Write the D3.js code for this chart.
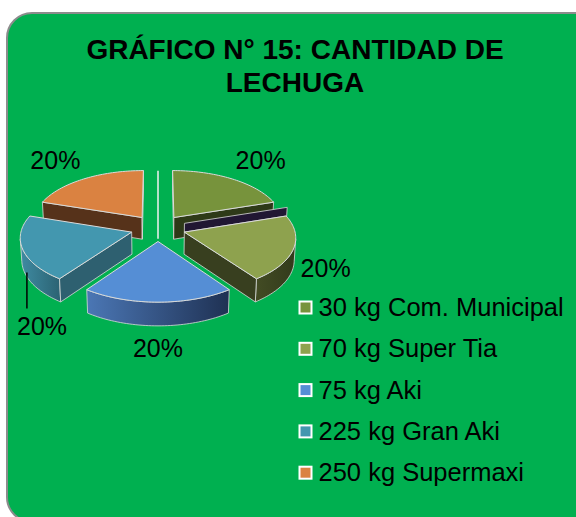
<!DOCTYPE html>
<html>
<head>
<meta charset="utf-8">
<script src="https://cdn.jsdelivr.net/npm/d3@7"></script>
<style>
  body { margin: 0; background: #fff; }
  svg { display: block; font-family: "Liberation Sans", Arial, sans-serif; }
</style>
</head>
<body>
<div id="chart"></div>
<script>
// Chart data
const categories = ["30 kg Com. Municipal", "70 kg Super Tia", "75 kg Aki", "225 kg Gran Aki", "250 kg Supermaxi"];
const values = [20, 20, 20, 20, 20];
const titleLines = ["GRÁFICO N° 15: CANTIDAD DE", "LECHUGA"];

const width = 576, height = 517;

// slice colours: top face, radial wall, outer wall gradient (light -> dark)
const topColor = d3.scaleOrdinal().domain(categories).range(["#77933C", "#8EA24E", "#558ED5", "#4397AF", "#DA8241"]);
const wallColor = d3.scaleOrdinal().domain(categories).range(["#2E3A18", "#383F1F", "#27406A", "#2E6070", "#56321A"]);
const outerLight = d3.scaleOrdinal().domain(categories).range(["#4A5C26", "#434C24", "#4B77B5", "#3F8BA2", "#7A4522"]);
const outerDark = d3.scaleOrdinal().domain(categories).range(["#2E3A18", "#323A1B", "#1F3153", "#2B6272", "#56321A"]);

const svg = d3.select("#chart").append("svg")
  .attr("width", width)
  .attr("height", height);

// green panel
svg.append("rect")
  .attr("x", 7).attr("y", 13)
  .attr("width", 640).attr("height", 509)
  .attr("rx", 25)
  .attr("fill", "#00B050")
  .attr("stroke", "#8c8c8c")
  .attr("stroke-width", 2);

// title
svg.append("text")
  .attr("text-anchor", "middle")
  .attr("font-weight", "bold")
  .attr("font-size", 28)
  .selectAll("tspan")
  .data(titleLines)
  .enter().append("tspan")
  .attr("x", 295)
  .attr("y", (d, i) => 59 + i * 33)
  .text(d => d);

// ---- 3D pie ----
const sinA = 0.48, cosA = Math.sqrt(1 - sinA * sinA);
const view = { cx: 158, cy: 228, s: 110, f: 10 };
const explode = 0.25, depth = 0.23;

function project(x, yf, z) {
  const u = z * cosA - yf * sinA;
  const w = yf * cosA + z * sinA;
  const k = view.f / (view.f - w);
  return [view.cx + x * view.s * k, view.cy - u * view.s * k];
}

function area(poly) {
  let s = 0;
  for (let i = 0; i < poly.length; i++) {
    const a = poly[i], b = poly[(i + 1) % poly.length];
    s += a[0] * b[1] - b[0] * a[1];
  }
  return s / 2;
}

const pie = d3.pie().sort(null).value(d => d.value);
const slices = pie(categories.map((c, i) => ({ name: c, value: values[i] })))
  .map(d => {
    const mid = (d.startAngle + d.endAngle) / 2;
    d.mid = mid;
    d.ox = explode * Math.sin(mid);
    d.oy = -explode * Math.cos(mid);
    d.pt = (a, r, z) => project(d.ox + r * Math.sin(a), d.oy - r * Math.cos(a), z);
    return d;
  });

const line = d3.line();
const defs = svg.append("defs");
const pieG = svg.append("g");

// thin back edge line
pieG.append("path")
  .attr("d", line([project(0, -1.2, 0), project(0, 0.2, 0)]))
  .attr("stroke", "#f2f2f2")
  .attr("stroke-width", 1.5);

const faceStroke = "#dadada";

function drawSlice(d, i) {
  const g = pieG.append("g");
  const n = 48;
  const angles = d3.range(n + 1).map(j => d.startAngle + (d.endAngle - d.startAngle) * j / n);

  // dark sliver on the leading edge of the second slice
  if (i === 1) {
    const dz = 0.09;
    const sl = [d.pt(d.startAngle, 0, 0), d.pt(d.startAngle, 1.005, 0), d.pt(d.startAngle, 1.005, dz), d.pt(d.startAngle, 0, dz)];
    g.append("path").attr("d", line(sl) + "Z")
      .attr("fill", "#211733").attr("stroke", faceStroke).attr("stroke-width", 0.8);
  }

  // outer wall (visible part)
  const vis = [];
  for (let j = 0; j < n; j++) {
    const a = angles[j], b = angles[j + 1];
    const quad = [d.pt(b, 1, 0), d.pt(a, 1, 0), d.pt(a, 1, -depth), d.pt(b, 1, -depth)];
    if (area(quad) > 0) vis.push(j);
  }
  if (vis.length) {
    const gid = "og" + i;
    const grad = defs.append("linearGradient").attr("id", gid).attr("x1", 0).attr("x2", 1).attr("y1", 0).attr("y2", 0);
    grad.append("stop").attr("offset", "0%").attr("stop-color", outerLight(d.data.name));
    grad.append("stop").attr("offset", "100%").attr("stop-color", outerDark(d.data.name));
    const j0 = vis[0], j1 = vis[vis.length - 1] + 1;
    const sub = angles.slice(j0, j1 + 1);
    const poly = sub.map(a => d.pt(a, 1, 0)).concat(sub.slice().reverse().map(a => d.pt(a, 1, -depth)));
    g.append("path").attr("d", line(poly) + "Z")
      .attr("fill", `url(#${gid})`).attr("stroke", faceStroke).attr("stroke-width", 0.8)
      .attr("stroke-linejoin", "round");
  }

  // radial walls
  const apexT = d.pt(0, 0, 0), apexB = d.pt(0, 0, -depth);
  const w0 = [d.pt(d.startAngle, 1, 0), apexT, apexB, d.pt(d.startAngle, 1, -depth)];
  const w1 = [apexT, d.pt(d.endAngle, 1, 0), d.pt(d.endAngle, 1, -depth), apexB];
  [w0, w1].forEach(w => {
    if (area(w) > 0) {
      g.append("path").attr("d", line(w) + "Z")
        .attr("fill", wallColor(d.data.name)).attr("stroke", faceStroke).attr("stroke-width", 0.8)
        .attr("stroke-linejoin", "round");
    }
  });

  // top face
  const top = [apexT].concat(angles.map(a => d.pt(a, 1, 0)));
  g.append("path").attr("d", line(top) + "Z")
    .attr("fill", topColor(d.data.name)).attr("stroke", faceStroke).attr("stroke-width", 1)
    .attr("stroke-linejoin", "round");
}

slices
  .map((d, i) => ({ d, i }))
  .sort((a, b) => a.d.oy - b.d.oy)
  .forEach(({ d, i }) => drawSlice(d, i));

// percentage labels
const total = d3.sum(values);
const fmt = d3.format(".0%");
slices.forEach(d => {
  const back = d.oy < 0;
  const P = d.pt(d.mid, 1, back ? 0 : -depth / 2);
  const dx = P[0] - view.cx, dy = P[1] - view.cy;
  const len = Math.hypot(dx, dy);
  let lx = P[0] + dx / len * 34, ly = P[1] + dy / len * 34;
  const t = svg.append("text")
    .attr("text-anchor", "middle")
    .attr("font-size", 25)
    .attr("dy", "0.35em")
    .text(fmt(d.value / total));
  const hw = t.node().getComputedTextLength() / 2;
  if (lx - hw < 17) {
    lx = 17 + hw;
    ly = P[1] + 66;
    svg.append("line")
      .attr("x1", P[0] + 3.5).attr("x2", P[0] + 3.5)
      .attr("y1", P[1] + 12).attr("y2", ly - 18)
      .attr("stroke", "#000").attr("stroke-width", 1.5);
  }
  t.attr("x", lx).attr("y", ly);
});

// legend
const legend = svg.append("g").attr("transform", "translate(299.5,0)");
const rows = legend.selectAll("g")
  .data(categories)
  .enter().append("g")
  .attr("transform", (d, i) => `translate(0,${316 + i * 41.3})`);

rows.append("rect")
  .attr("x", 0).attr("y", -14.5)
  .attr("width", 12).attr("height", 12)
  .attr("fill", d => topColor(d))
  .attr("stroke", "#fff")
  .attr("stroke-width", 2);

rows.append("text")
  .attr("x", 19)
  .attr("font-size", 25.5)
  .text(d => d);
</script>
</body>
</html>
